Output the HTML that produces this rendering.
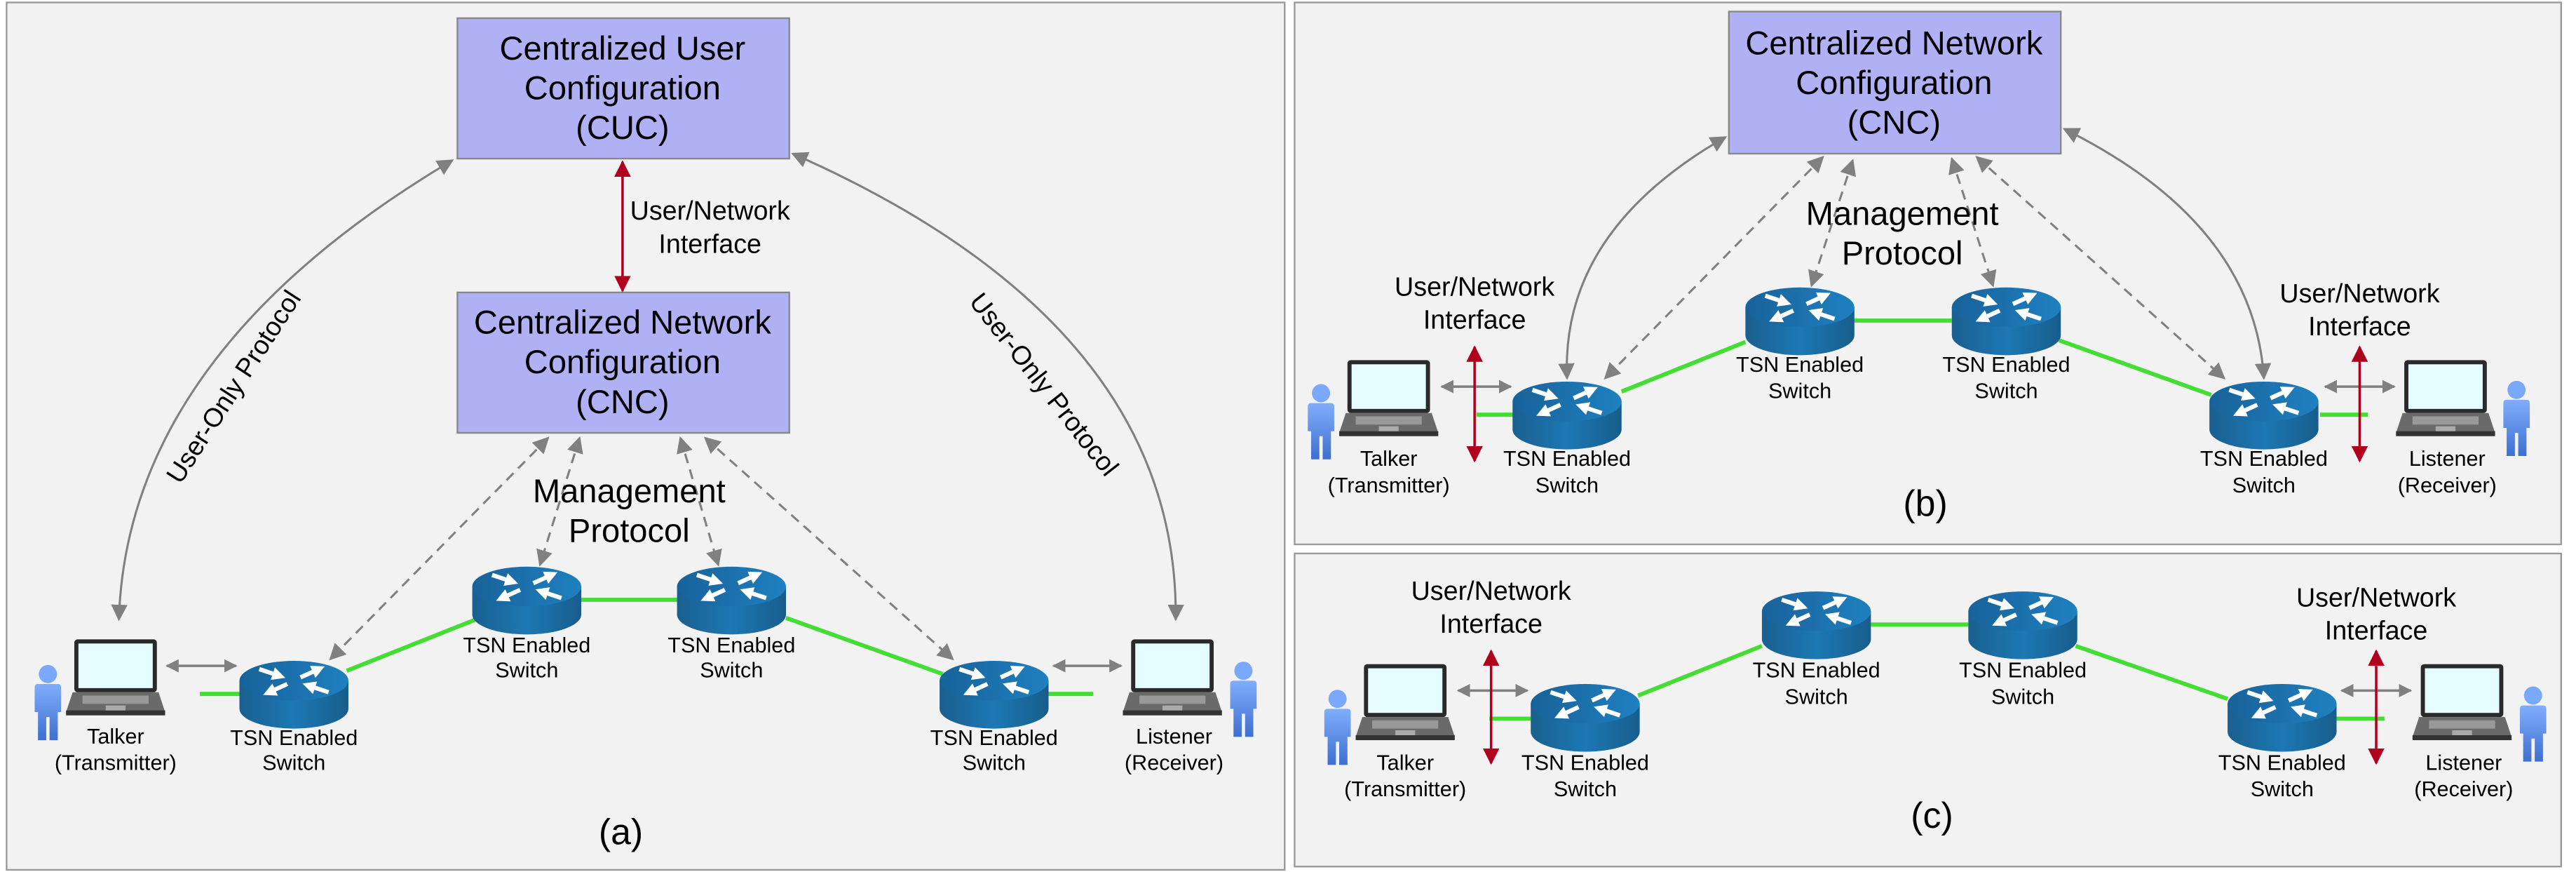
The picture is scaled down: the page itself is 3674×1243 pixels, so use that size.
<!DOCTYPE html>
<html><head><meta charset="utf-8"><style>
html,body{margin:0;padding:0;background:#fff;}
svg{display:block;}
text{font-family:"Liberation Sans",Arial,sans-serif;fill:#000;}
</style></head><body>
<svg width="3674" height="1243" viewBox="0 0 1560 527.8" preserveAspectRatio="none" xmlns="http://www.w3.org/2000/svg">
<defs>
<marker id="ga" viewBox="0 0 10 10" refX="9" refY="5" markerWidth="8" markerHeight="8" markerUnits="userSpaceOnUse" orient="auto-start-reverse"><path d="M0,0 L10,5 L0,10 z" fill="#808080"/></marker>
<marker id="gb" viewBox="0 0 10 10" refX="9" refY="5" markerWidth="10" markerHeight="10" markerUnits="userSpaceOnUse" orient="auto-start-reverse"><path d="M0,0 L10,5 L0,10 z" fill="#808080"/></marker>
<marker id="ra" viewBox="0 0 10 10" refX="9" refY="5" markerWidth="10" markerHeight="10" markerUnits="userSpaceOnUse" orient="auto-start-reverse"><path d="M0,0 L10,5 L0,10 z" fill="#b0001e"/></marker>
<marker id="wa" viewBox="0 0 10 10" refX="5" refY="5" markerWidth="8" markerHeight="8" markerUnits="userSpaceOnUse" orient="auto"><path d="M0,0 L10,5 L0,10 z" fill="#fff"/></marker>
<linearGradient id="rb" x1="0" x2="1" y1="0" y2="0"><stop offset="0" stop-color="#1a5f8f"/><stop offset="0.5" stop-color="#1d78b4"/><stop offset="1" stop-color="#175d8c"/></linearGradient>
<linearGradient id="rt" x1="0" x2="1" y1="0" y2="0"><stop offset="0" stop-color="#18629a"/><stop offset="1" stop-color="#1f80c0"/></linearGradient>
<linearGradient id="pb" x1="0" x2="0" y1="0" y2="1"><stop offset="0" stop-color="#80aefc"/><stop offset="1" stop-color="#3f6fd0"/></linearGradient>
<g id="router">
<path d="M-33,-7 L-33,10 A33,12 0 0 0 33,10 L33,-7 z" fill="url(#rb)"/>
<ellipse cx="0" cy="-7" rx="33" ry="12" fill="url(#rt)"/>
<g stroke="#fff" stroke-width="2.6" fill="none">
<line x1="-21" y1="-14" x2="-9" y2="-10" marker-end="url(#wa)"/>
<line x1="4" y1="-9" x2="15" y2="-14" marker-end="url(#wa)"/>
<line x1="-4" y1="-5" x2="-15" y2="0" marker-end="url(#wa)"/>
<line x1="21" y1="0" x2="9" y2="-4" marker-end="url(#wa)"/>
</g>
</g>
<g id="laptop">
<rect x="5" y="0" width="50" height="32" rx="2" fill="#2a2a2a"/>
<rect x="7.5" y="2.5" width="45" height="27" fill="#e4fcff"/>
<path d="M4,32 L56,32 L60,44 L0,44 z" fill="#6a6a6a"/>
<rect x="0" y="43" width="60" height="3" fill="#333"/>
<rect x="10" y="34" width="40" height="5" fill="#999"/>
<rect x="24" y="40" width="12" height="3" fill="#aaa"/>
</g>
<g id="person">
<circle cx="10" cy="6" r="5.5" fill="#7aa8fb"/>
<path d="M2,14 Q2,12 4,12 L16,12 Q18,12 18,14 L18,29 L16,29 L16,46 L11,46 L11,32 L9,32 L9,46 L4,46 L4,29 L2,29 z" fill="url(#pb)"/>
</g>
</defs>
<rect x="0" y="0" width="1560" height="527.8" fill="#fff"/>
<rect x="4" y="1.5" width="774" height="525" fill="#f2f2f2" stroke="#999" stroke-width="1"/>
<rect x="784" y="1.5" width="767" height="328" fill="#f2f2f2" stroke="#999" stroke-width="1"/>
<rect x="784" y="335" width="767" height="189.5" fill="#f2f2f2" stroke="#999" stroke-width="1"/>

<!-- ===== Panel (a) ===== -->
<rect x="277" y="11" width="201" height="85" fill="#b0b0f4" stroke="#888" stroke-width="1"/>
<text x="377" y="36" font-size="20" text-anchor="middle">Centralized User</text>
<text x="377" y="60" font-size="20" text-anchor="middle">Configuration</text>
<text x="377" y="84" font-size="20" text-anchor="middle">(CUC)</text>
<rect x="277" y="177" width="201" height="85" fill="#b0b0f4" stroke="#888" stroke-width="1"/>
<text x="377" y="202" font-size="20" text-anchor="middle">Centralized Network</text>
<text x="377" y="226" font-size="20" text-anchor="middle">Configuration</text>
<text x="377" y="250" font-size="20" text-anchor="middle">(CNC)</text>
<line x1="377" y1="98" x2="377" y2="176" stroke="#b0001e" stroke-width="1.5" marker-start="url(#ra)" marker-end="url(#ra)"/>
<text x="430" y="133" font-size="16" text-anchor="middle">User/Network</text>
<text x="430" y="153" font-size="16" text-anchor="middle">Interface</text>
<path d="M72,375 Q77,214 274,97" fill="none" stroke="#808080" stroke-width="1.3" marker-start="url(#gb)" marker-end="url(#gb)"/>
<path d="M480,93 Q714,196 712,375" fill="none" stroke="#808080" stroke-width="1.3" marker-start="url(#gb)" marker-end="url(#gb)"/>
<text x="0" y="0" font-size="16" text-anchor="middle" transform="translate(146,237) rotate(-57)">User-Only Protocol</text>
<text x="0" y="0" font-size="16" text-anchor="middle" transform="translate(628,236) rotate(52)">User-Only Protocol</text>
<g stroke="#808080" stroke-width="1.3" stroke-dasharray="6,4" fill="none">
<line x1="332" y1="265" x2="200" y2="399" marker-start="url(#gb)" marker-end="url(#gb)"/>
<line x1="351" y1="265" x2="327" y2="342" marker-start="url(#gb)" marker-end="url(#gb)"/>
<line x1="412" y1="265" x2="435" y2="342" marker-start="url(#gb)" marker-end="url(#gb)"/>
<line x1="427" y1="265" x2="577" y2="399" marker-start="url(#gb)" marker-end="url(#gb)"/>
</g>
<text x="381" y="304" font-size="20" text-anchor="middle">Management</text>
<text x="381" y="328" font-size="20" text-anchor="middle">Protocol</text>
<g stroke="#44dd33" stroke-width="2.5">
<line x1="121" y1="420" x2="147" y2="420"/>
<line x1="210" y1="406" x2="288" y2="375"/>
<line x1="352" y1="363" x2="411" y2="363"/>
<line x1="476" y1="374" x2="571" y2="408"/>
<line x1="635" y1="420" x2="662" y2="420"/>
</g>
<line x1="101" y1="403" x2="143" y2="403" stroke="#808080" stroke-width="1.5" marker-start="url(#ga)" marker-end="url(#ga)"/>
<line x1="638" y1="403" x2="679" y2="403" stroke="#808080" stroke-width="1.5" marker-start="url(#ga)" marker-end="url(#ga)"/>
<use href="#router" x="178" y="419"/>
<use href="#router" x="319" y="362"/>
<use href="#router" x="443" y="362"/>
<use href="#router" x="602" y="419"/>
<use href="#laptop" x="40" y="387"/>
<use href="#laptop" x="680" y="387"/>
<use href="#person" x="19" y="402"/>
<use href="#person" x="743" y="400"/>
<g font-size="13" text-anchor="middle">
<text x="70" y="450">Talker</text><text x="70" y="466">(Transmitter)</text>
<text x="711" y="450">Listener</text><text x="711" y="466">(Receiver)</text>
<text x="178" y="451">TSN Enabled</text><text x="178" y="466">Switch</text>
<text x="319" y="395">TSN Enabled</text><text x="319" y="410">Switch</text>
<text x="443" y="395">TSN Enabled</text><text x="443" y="410">Switch</text>
<text x="602" y="451">TSN Enabled</text><text x="602" y="466">Switch</text>
</g>
<text x="376" y="511" font-size="22" text-anchor="middle">(a)</text>

<!-- ===== Panel (b) ===== -->
<rect x="1047" y="7" width="201" height="86" fill="#b0b0f4" stroke="#888" stroke-width="1"/>
<text x="1147" y="33" font-size="20" text-anchor="middle">Centralized Network</text>
<text x="1147" y="57" font-size="20" text-anchor="middle">Configuration</text>
<text x="1147" y="81" font-size="20" text-anchor="middle">(CNC)</text>
<path d="M949,229 Q945,140 1045,83" fill="none" stroke="#808080" stroke-width="1.3" marker-start="url(#gb)" marker-end="url(#gb)"/>
<path d="M1250,78 Q1365,135 1371,229" fill="none" stroke="#808080" stroke-width="1.3" marker-start="url(#gb)" marker-end="url(#gb)"/>
<g stroke="#808080" stroke-width="1.3" stroke-dasharray="6,4" fill="none">
<line x1="1104" y1="95" x2="972" y2="229" marker-start="url(#gb)" marker-end="url(#gb)"/>
<line x1="1122" y1="97" x2="1097" y2="173" marker-start="url(#gb)" marker-end="url(#gb)"/>
<line x1="1182" y1="96" x2="1207" y2="173" marker-start="url(#gb)" marker-end="url(#gb)"/>
<line x1="1197" y1="95" x2="1347" y2="229" marker-start="url(#gb)" marker-end="url(#gb)"/>
</g>
<text x="1152" y="136" font-size="20" text-anchor="middle">Management</text>
<text x="1152" y="160" font-size="20" text-anchor="middle">Protocol</text>
<text x="893" y="179" font-size="16" text-anchor="middle">User/Network</text>
<text x="893" y="199" font-size="16" text-anchor="middle">Interface</text>
<text x="1429" y="183" font-size="16" text-anchor="middle">User/Network</text>
<text x="1429" y="203" font-size="16" text-anchor="middle">Interface</text>
<g stroke="#44dd33" stroke-width="2.5">
<line x1="894" y1="251" x2="917" y2="251"/>
<line x1="982" y1="237" x2="1057" y2="207"/>
<line x1="1123" y1="194" x2="1182" y2="194"/>
<line x1="1247" y1="206" x2="1339" y2="239"/>
<line x1="1405" y1="251" x2="1434" y2="251"/>
</g>
<line x1="873" y1="234" x2="915" y2="234" stroke="#808080" stroke-width="1.5" marker-start="url(#ga)" marker-end="url(#ga)"/>
<line x1="1408" y1="234" x2="1450" y2="234" stroke="#808080" stroke-width="1.5" marker-start="url(#ga)" marker-end="url(#ga)"/>
<line x1="893" y1="210" x2="893" y2="279" stroke="#b0001e" stroke-width="1.5" marker-start="url(#ra)" marker-end="url(#ra)"/>
<line x1="1429" y1="210" x2="1429" y2="279" stroke="#b0001e" stroke-width="1.5" marker-start="url(#ra)" marker-end="url(#ra)"/>
<use href="#router" x="949" y="250"/>
<use href="#router" x="1090" y="193"/>
<use href="#router" x="1215" y="193"/>
<use href="#router" x="1371" y="250"/>
<use href="#laptop" x="811" y="218"/>
<use href="#laptop" x="1451" y="218"/>
<use href="#person" x="790" y="232"/>
<use href="#person" x="1514" y="230"/>
<g font-size="13" text-anchor="middle">
<text x="841" y="282">Talker</text><text x="841" y="298">(Transmitter)</text>
<text x="1482" y="282">Listener</text><text x="1482" y="298">(Receiver)</text>
<text x="949" y="282">TSN Enabled</text><text x="949" y="298">Switch</text>
<text x="1090" y="225">TSN Enabled</text><text x="1090" y="241">Switch</text>
<text x="1215" y="225">TSN Enabled</text><text x="1215" y="241">Switch</text>
<text x="1371" y="282">TSN Enabled</text><text x="1371" y="298">Switch</text>
</g>
<text x="1166" y="312" font-size="22" text-anchor="middle">(b)</text>

<!-- ===== Panel (c) ===== -->
<text x="903" y="363" font-size="16" text-anchor="middle">User/Network</text>
<text x="903" y="383" font-size="16" text-anchor="middle">Interface</text>
<text x="1439" y="367" font-size="16" text-anchor="middle">User/Network</text>
<text x="1439" y="387" font-size="16" text-anchor="middle">Interface</text>
<g stroke="#44dd33" stroke-width="2.5">
<line x1="902" y1="435" x2="927" y2="435"/>
<line x1="992" y1="421" x2="1067" y2="391"/>
<line x1="1133" y1="378" x2="1192" y2="378"/>
<line x1="1257" y1="391" x2="1349" y2="423"/>
<line x1="1415" y1="435" x2="1444" y2="435"/>
</g>
<line x1="883" y1="418" x2="925" y2="418" stroke="#808080" stroke-width="1.5" marker-start="url(#ga)" marker-end="url(#ga)"/>
<line x1="1418" y1="418" x2="1460" y2="418" stroke="#808080" stroke-width="1.5" marker-start="url(#ga)" marker-end="url(#ga)"/>
<line x1="903" y1="394" x2="903" y2="462" stroke="#b0001e" stroke-width="1.5" marker-start="url(#ra)" marker-end="url(#ra)"/>
<line x1="1439" y1="394" x2="1439" y2="462" stroke="#b0001e" stroke-width="1.5" marker-start="url(#ra)" marker-end="url(#ra)"/>
<use href="#router" x="960" y="433"/>
<use href="#router" x="1100" y="377"/>
<use href="#router" x="1225" y="377"/>
<use href="#router" x="1382" y="433"/>
<use href="#laptop" x="821" y="402"/>
<use href="#laptop" x="1461" y="402"/>
<use href="#person" x="800" y="417"/>
<use href="#person" x="1524" y="415"/>
<g font-size="13" text-anchor="middle">
<text x="851" y="466">Talker</text><text x="851" y="482">(Transmitter)</text>
<text x="1492" y="466">Listener</text><text x="1492" y="482">(Receiver)</text>
<text x="960" y="466">TSN Enabled</text><text x="960" y="482">Switch</text>
<text x="1100" y="410">TSN Enabled</text><text x="1100" y="426">Switch</text>
<text x="1225" y="410">TSN Enabled</text><text x="1225" y="426">Switch</text>
<text x="1382" y="466">TSN Enabled</text><text x="1382" y="482">Switch</text>
</g>
<text x="1170" y="501" font-size="22" text-anchor="middle">(c)</text>
</svg>
</body></html>
